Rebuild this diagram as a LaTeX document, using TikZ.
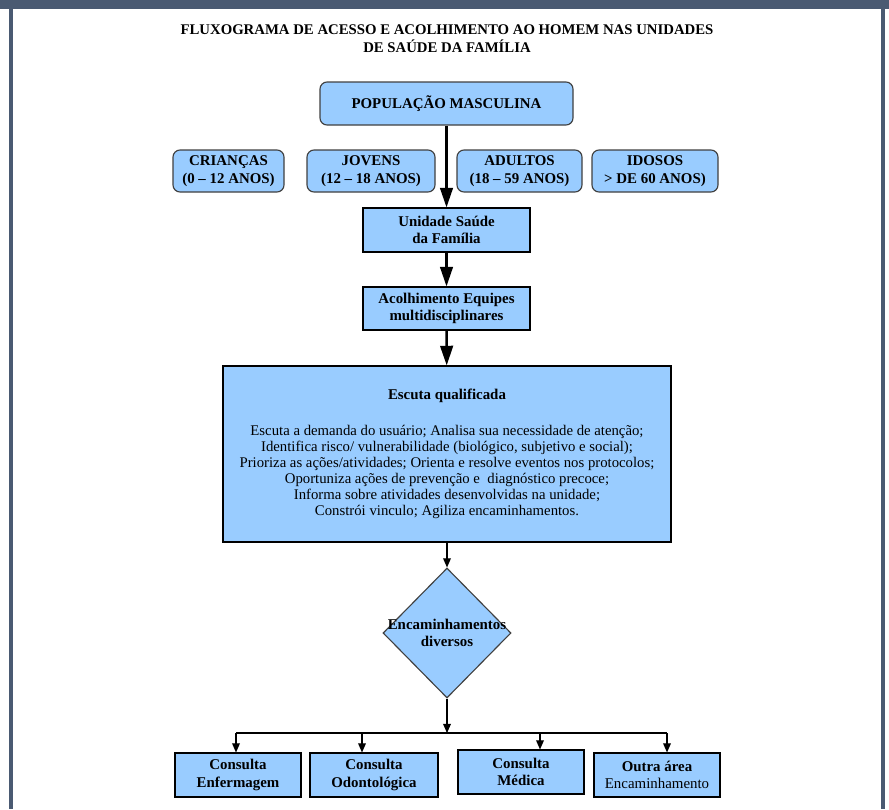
\documentclass[tikz,border=0pt]{standalone}
\usepackage{fontspec}
\setmainfont{Liberation Serif}
\usepackage{tikz}
\usetikzlibrary{arrows.meta,shapes.geometric}
\definecolor{boxblue}{HTML}{99CCFF}
\definecolor{frameblue}{HTML}{4A5A72}

\begin{document}
\begin{tikzpicture}[
  lbl/.style={font=\bfseries\fontsize{10.6}{12.5}\selectfont, align=center},
  rbox/.style={lbl, draw=black!75, line width=0.8pt, fill=boxblue, rounded corners=5pt, inner sep=0pt},
  sbox/.style={lbl, draw=black, line width=0.8pt, fill=boxblue, inner sep=0pt},
  bigarrow/.style={line width=1.8pt, -{Triangle[length=14pt,width=9pt]}},
  smallarrow/.style={line width=0.8pt, -{Triangle[length=6.5pt,width=5.5pt]}}
]
  \useasboundingbox (0,0) rectangle (22.225,-20.225);
  \fill[frameblue] (0,0) rectangle (22.225,-0.225);
  \fill[frameblue] (0.225,0) rectangle (0.325,-20.225);
  \fill[frameblue] (22.025,0) rectangle (22.125,-20.225);

  \draw (11.175,-0.975) node (00) [font=\bfseries\fontsize{10.5}{12.8}\selectfont, align=center]
    {FLUXOGRAMA DE ACESSO E ACOLHIMENTO AO HOMEM NAS UNIDADES\\DE SAÚDE DA FAMÍLIA};

  \draw (11.1625,-2.5875) node (11) [rbox, minimum width=6.325cm, minimum height=1.075cm] {POPULAÇÃO MASCULINA};

  \draw (5.7125,-4.275) node (21) [rbox, minimum width=2.775cm, minimum height=1.05cm] {CRIANÇAS\\(0 – 12 ANOS)};
  \draw (9.275,-4.275)  node (22) [rbox, minimum width=3.2cm, minimum height=1.05cm] {JOVENS\\(12 – 18 ANOS)};
  \draw (12.9875,-4.275) node (23) [rbox, minimum width=3.125cm, minimum height=1.05cm] {ADULTOS\\(18 – 59 ANOS)};
  \draw (16.375,-4.275) node (24) [rbox, minimum width=3.15cm, minimum height=1.05cm] {IDOSOS\\> DE 60 ANOS)};

  \draw (11.1625,-5.75) node (31) [sbox, minimum width=4.175cm, minimum height=1.1cm] {Unidade Saúde\\da Família};
  \draw (11) -- (31) [bigarrow];

  \draw (11.1625,-7.7125) node (41) [sbox, minimum width=4.175cm, minimum height=1.075cm] {Acolhimento Equipes\\multidisciplinares};
  \draw (31) -- (41) [bigarrow];

  \draw (11.175,-11.35) node (51) [sbox, minimum width=11.2cm, minimum height=4.4cm,
    font=\fontsize{10.5}{11.4}\selectfont]
    {{\bfseries\fontsize{10.6}{12.5}\selectfont Escuta qualificada}\\[14pt]
     Escuta a demanda do usuário; Analisa sua necessidade de atenção;\\
     Identifica risco/ vulnerabilidade (biológico, subjetivo e social);\\
     Prioriza as ações/atividades; Orienta e resolve eventos nos protocolos;\\
     Oportuniza ações de prevenção e \ diagnóstico precoce;\\
     Informa sobre atividades desenvolvidas na unidade;\\
     Constrói vinculo; Agiliza encaminhamentos.};
  \draw (41) -- (51) [bigarrow];

  \draw (11.175,-15.825) node (61) [diamond, draw=black!75, line width=0.8pt, fill=boxblue,
    minimum width=3.2cm, minimum height=3.25cm, inner sep=0pt,
    label={[lbl]center:Encaminhamentos\\diversos}] {};
  \draw (51) -- (61) [smallarrow];

  \coordinate (70) at (11.175,-18.325);
  \coordinate (c1) at (5.9,-18.325);
  \coordinate (c2) at (9.05,-18.325);
  \coordinate (c3) at (13.5,-18.325);
  \coordinate (c4) at (16.675,-18.325);
  \draw (61) -- (70) [smallarrow];
  \draw[line width=0.8pt] (c1) -- (c4);

  \draw (5.95,-19.375)  node (71) [sbox, minimum width=3.15cm, minimum height=1.1cm] {Consulta\\Enfermagem};
  \draw (9.35,-19.375)  node (72) [sbox, minimum width=3.2cm, minimum height=1.1cm] {Consulta\\Odontológica};
  \draw (13.025,-19.3) node (73) [sbox, minimum width=3.15cm, minimum height=1.1cm] {Consulta\\Médica};
  \draw (16.425,-19.375) node (74) [sbox, minimum width=3.15cm, minimum height=1.1cm] {Outra área\\{\mdseries Encaminhamento}};
  \draw (c1) -- (c1 |- 71.north) [smallarrow];
  \draw (c2) -- (c2 |- 72.north) [smallarrow];
  \draw (c3) -- (c3 |- 73.north) [smallarrow];
  \draw (c4) -- (c4 |- 74.north) [smallarrow];

\end{tikzpicture}
\end{document}
